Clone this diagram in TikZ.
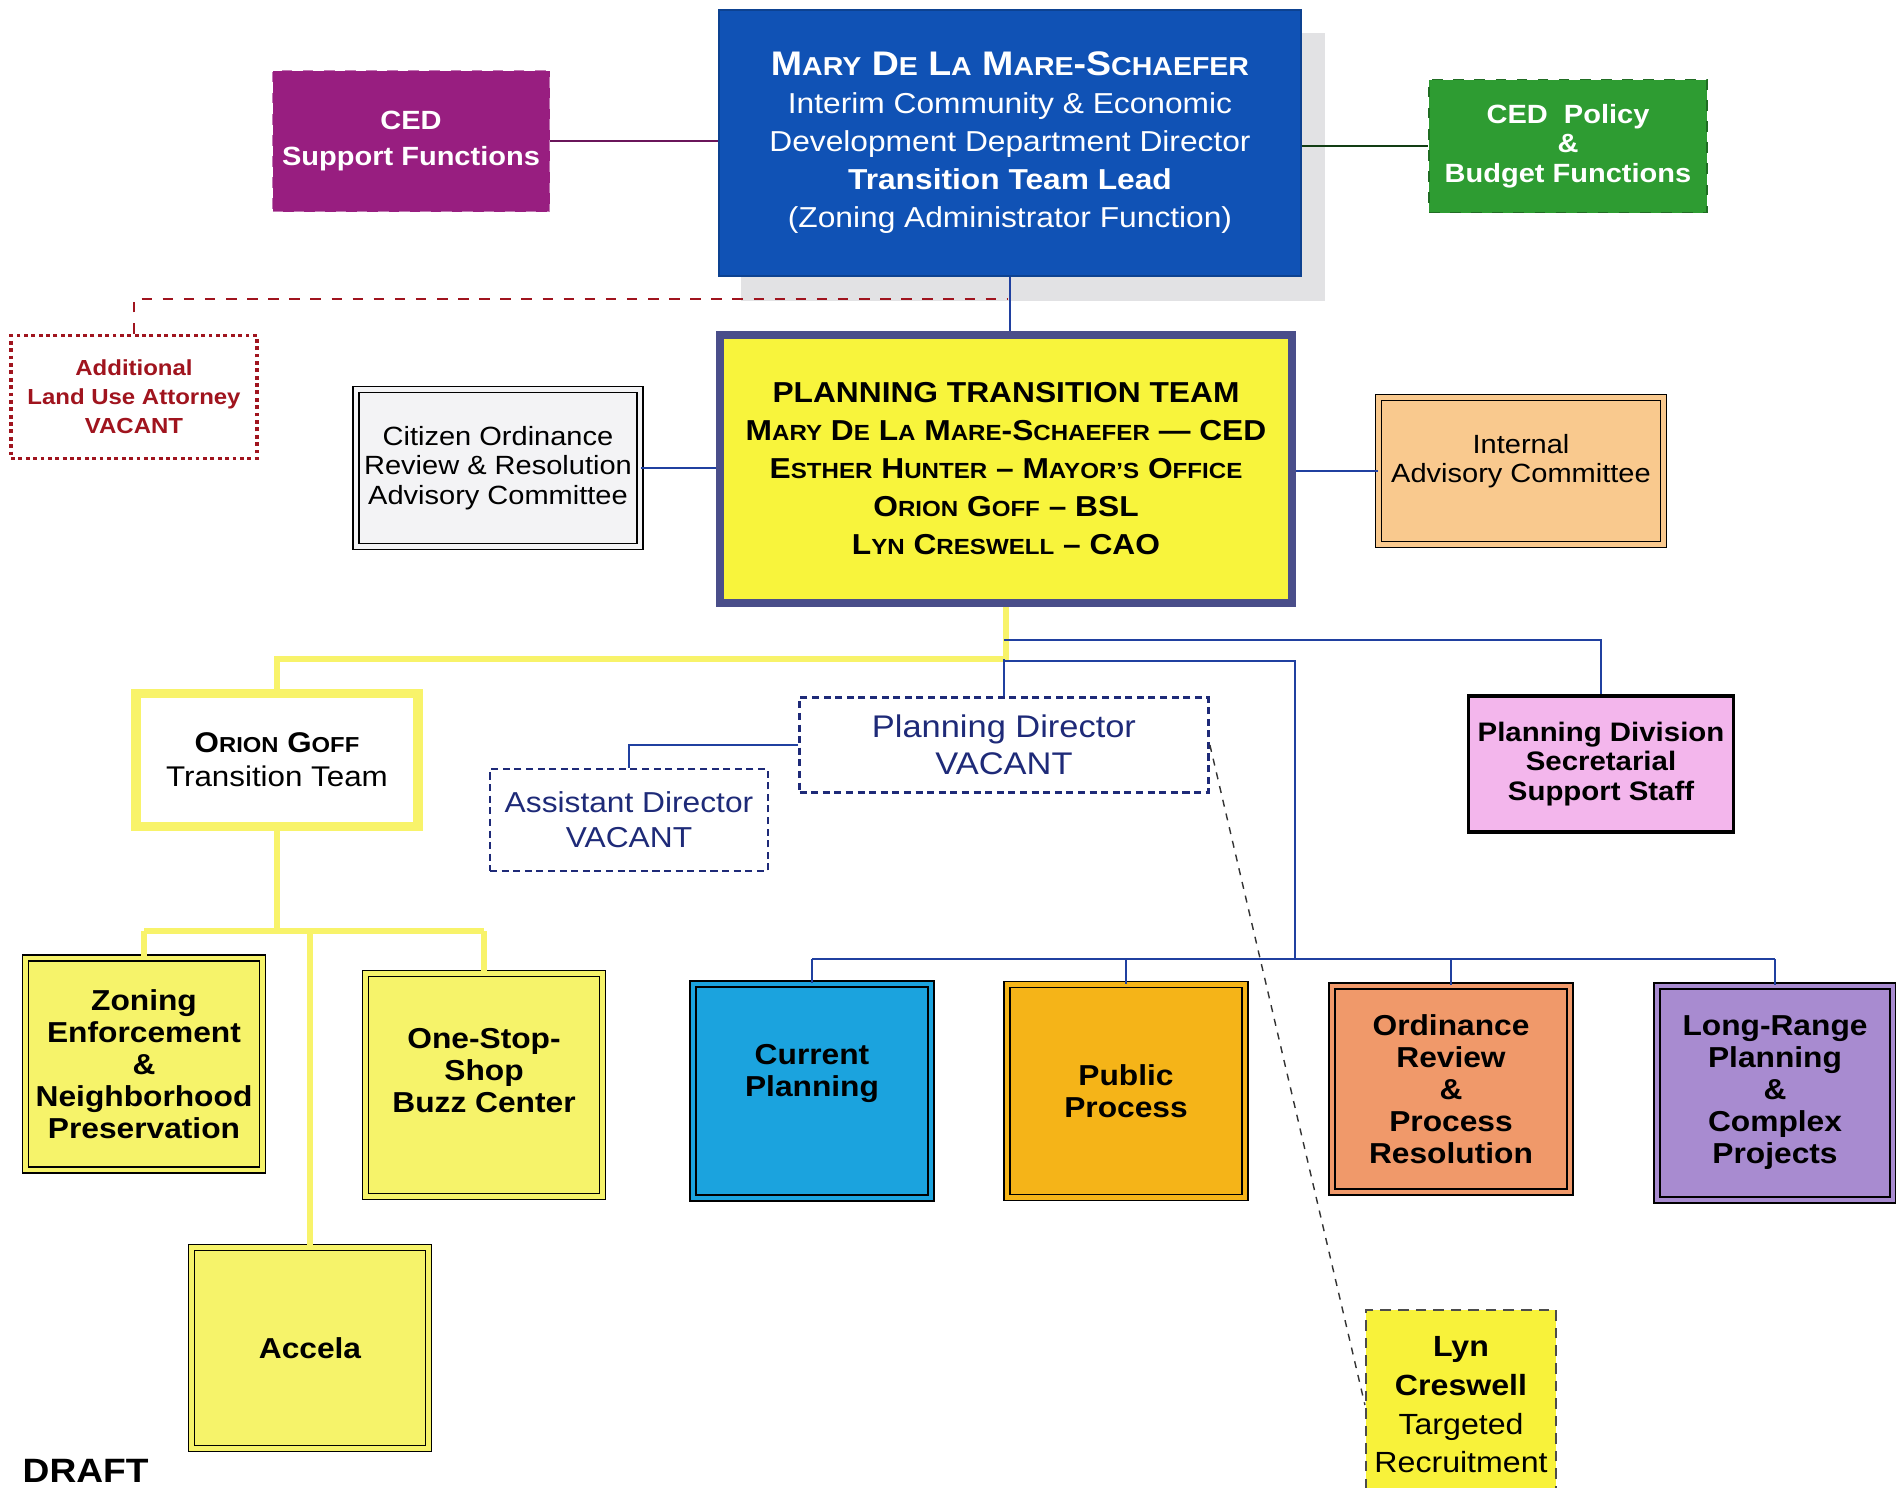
\documentclass[tikz,border=0pt]{standalone}
\usepackage{graphicx}
\usepackage{fontspec}
\setmainfont{Liberation Sans}[FakeStretch=1.1]
\usetikzlibrary{calc}

\definecolor{dirblue}{RGB}{16,82,181}
\definecolor{shadowgray}{RGB}{226,226,228}
\definecolor{cedpurple}{RGB}{152,30,128}
\definecolor{cedgreen}{RGB}{46,156,50}
\definecolor{attred}{RGB}{160,20,30}
\definecolor{pttyellow}{RGB}{248,244,60}
\definecolor{pttborder}{RGB}{74,78,138}
\definecolor{citgray}{RGB}{243,243,245}
\definecolor{intorange}{RGB}{249,201,142}
\definecolor{ogyellow}{RGB}{248,243,106}
\definecolor{pdnavy}{RGB}{30,42,120}
\definecolor{secpink}{RGB}{243,182,236}
\definecolor{unityellow}{RGB}{246,243,106}
\definecolor{cpblue}{RGB}{27,163,222}
\definecolor{ppgold}{RGB}{245,180,24}
\definecolor{ordsalmon}{RGB}{240,153,106}
\definecolor{lrpurple}{RGB}{168,139,208}
\definecolor{lynyellow}{RGB}{248,242,58}
\definecolor{linkblue}{RGB}{32,64,160}

% fake small caps and font size shortcut
\newcommand{\lc}[1]{\scalebox{0.76}{#1}}
\newcommand{\fs}[2]{\fontsize{#1}{#2}\selectfont}

\pgfdeclarelayer{back}
\pgfsetlayers{back,main}

\begin{document}
\begin{tikzpicture}[x=0.01cm,y=-0.01cm,
    box/.style={align=center,inner sep=1pt},
    wh/.style 2 args={minimum width=#1*0.01cm,minimum height=#2*0.01cm},
    unit/.style={box,draw=black,line width=0.45pt,double=#1,double distance=1.2pt,fill=#1,font=\bfseries\fs{8.2}{9.1}},
    vacant/.style={box,draw=pdnavy,dash pattern=on 2pt off 1.3pt,line width=0.8pt,text=pdnavy},
    link/.style={draw=linkblue,line width=0.6pt},
    yellink/.style={draw=ogyellow,line width=1.5pt},
  ]
  \clip (0,0) rectangle (1896,1487);

  % top row
  \node[box,fill=dirblue,draw=dirblue!80!black,text=white,wh={582}{266},font=\fs{8.2}{10.8}] (dir) at (1010,143)
    {{\bfseries\fs{9.7}{10.8}M\lc{ARY} D\lc{E} L\lc{A} M\lc{ARE}-S\lc{CHAEFER}}\\
     Interim Community \& Economic\\
     Development Department Director\\
     {\bfseries Transition Team Lead}\\
     (Zoning Administrator Function)};
  \begin{pgfonlayer}{back}
    \fill[shadowgray] ($(dir.north west)+(23,24)$) rectangle ($(dir.south east)+(23,24)$);
  \end{pgfonlayer}

  \node[box,fill=cedpurple,draw=cedpurple!60!white,dashed,text=white,wh={277}{141},font=\bfseries\fs{7.5}{10.3}] (sup) at (411,141)
    {CED\\Support Functions};
  \node[box,fill=cedgreen,draw=cedgreen!70!black,dashed,text=white,wh={278}{133},font=\bfseries\fs{7.5}{8.4}] (pol) at (1568,146)
    {CED\ \ Policy\\\&\\Budget Functions};

  \draw[draw=cedpurple!70!black,line width=0.6pt] (sup.east) -- (sup.east -| dir.west);
  \draw[draw=cedgreen!40!black,line width=0.6pt] (pol.west -| dir.east) -- (pol.west);

  \node[box,draw=attred,densely dotted,line width=1.1pt,text=attred,wh={246}{123},font=\bfseries\fs{6.2}{8.3}] (att) at (134,397)
    {Additional\\Land Use Attorney\\VACANT};
  \coordinate (attj) at (1008,299);
  \draw[draw=attred,dashed,line width=0.7pt] (att.north) |- (attj);

  % transition team row
  \node[box,fill=pttyellow,draw=pttborder,line width=2.3pt,wh={572}{268},font=\bfseries\fs{8.2}{10.8}] (ptt) at (1006,469)
    {PLANNING TRANSITION TEAM\\
     M\lc{ARY} D\lc{E} L\lc{A} M\lc{ARE}-S\lc{CHAEFER} --- CED\\
     E\lc{STHER} H\lc{UNTER} -- M\lc{AYOR’S} O\lc{FFICE}\\
     O\lc{RION} G\lc{OFF} -- BSL\\
     L\lc{YN} C\lc{RESWELL} -- CAO};
  \node[unit=citgray,font=\fs{7.5}{8.4},wh={284}{157}] (cit) at (498,468)
    {Citizen Ordinance\\Review \& Resolution\\Advisory Committee};
  \node[unit=intorange,font=\fs{7.5}{8.4},wh={285}{147},text depth=0.25cm] (int) at (1521,471)
    {Internal\\Advisory Committee};

  \draw[link] (dir.south) -- (dir.south |- ptt.north);
  \draw[link] (cit.east) -- (cit.east -| ptt.west);
  \draw[link] (int.west -| ptt.east) -- (int.west);

  % second level
  \node[box,fill=white,draw=ogyellow,line width=2.8pt,wh={282}{133},font=\fs{8.1}{9.7}] (og) at (277,760)
    {{\bfseries O\lc{RION} G\lc{OFF}}\\Transition Team};
  \node[vacant,wh={409}{95},font=\fs{8.9}{10.5}] (pd) at (1004,745) {Planning Director\\VACANT};
  \node[vacant,wh={278}{102},font=\fs{8.2}{10}] (ad) at (629,820) {Assistant Director\\VACANT};
  \node[box,fill=secpink,draw=black,line width=1pt,wh={265}{136},font=\bfseries\fs{7.6}{8.5}] (sec) at (1601,764)
    {Planning Division\\Secretarial\\Support Staff};

  \coordinate (split) at (1004,659);
  \coordinate (tapA) at (1004,640);
  \coordinate (tapB) at (1004,661);
  \draw[yellink] (ptt.south) -- (ptt.south |- split) -| (og.north);
  \draw[link] (split) -- (pd.north);
  \draw[link] (tapA) -| (sec.north);
  \draw[link] (pd.west) -| (ad.north);

  % units under the planning director
  \node[unit=cpblue,wh={238}{214},text depth=0.42cm] (cp) at (812,1091) {Current\\Planning};
  \node[unit=ppgold,wh={238}{213}] (pp) at (1126,1091) {Public\\Process};
  \node[unit=ordsalmon,wh={238}{206}] (ord) at (1451,1089) {Ordinance\\Review\\\&\\Process\\Resolution};
  \node[unit=lrpurple,wh={236}{214}] (lr) at (1775,1093) {Long-Range\\Planning\\\&\\Complex\\Projects};

  \coordinate (busj) at (1295,959);
  \draw[link] (tapB) -| (busj);
  \draw[link] (cp.north |- busj) -- (lr.north |- busj);
  \foreach \u in {cp,pp,ord,lr} {
    \draw[link] (\u.north |- busj) -- (\u.north);
  }

  % units under the transition team
  \node[unit=unityellow,wh={237}{212}] (zon) at (144,1064) {Zoning\\Enforcement\\\&\\Neighborhood\\Preservation};
  \node[unit=unityellow,wh={237}{223},text depth=0.3cm] (one) at (484,1085) {One-Stop-\\Shop\\Buzz Center};
  \node[unit=unityellow,wh={237}{201}] (acc) at (310,1348) {Accela};

  \coordinate (ybus) at (277,931);
  \draw[yellink] (og.south) -- (og.south |- ybus);
  \draw[yellink] (zon.north |- ybus) -- (one.north |- ybus);
  \foreach \u in {zon,one,acc} {
    \draw[yellink] (\u.north |- ybus) -- (\u.north);
  }

  \node[box,fill=lynyellow,draw=black!70,densely dashed,line width=0.6pt,wh={190}{190},font=\fs{8.3}{11}] (lyn) at (1461,1405)
    {{\bfseries Lyn}\\{\bfseries Creswell}\\Targeted\\Recruitment};
  \draw[black!80,dash pattern=on 2pt off 2pt,line width=0.4pt] (pd.east) -- (lyn.west);

  \node[anchor=north west,inner sep=0pt,font=\bfseries\fs{9.6}{11}] (draft) at (22,1459) {DRAFT};
\end{tikzpicture}
\end{document}
